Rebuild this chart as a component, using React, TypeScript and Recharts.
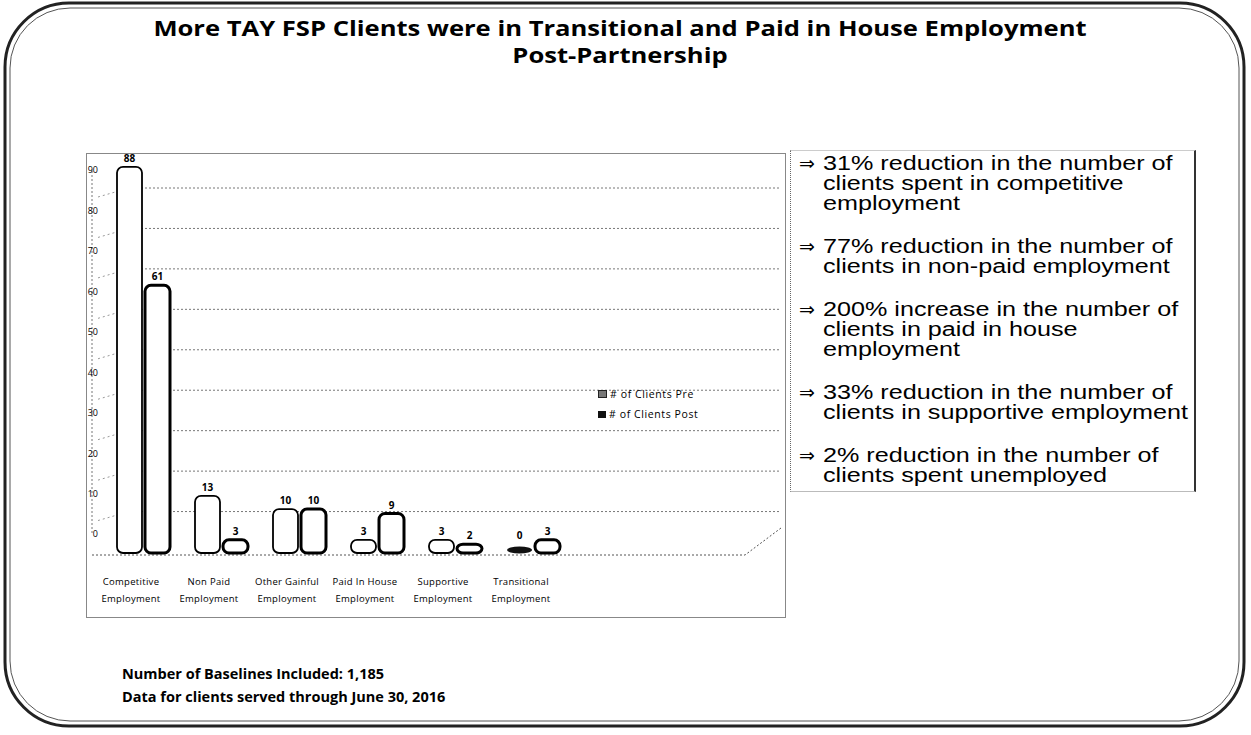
import React from "react";
import { BarChart, Bar, XAxis, YAxis, CartesianGrid, LabelList, Legend } from "recharts";

const catLine1 = ["Competitive", "Non Paid", "Other Gainful", "Paid In House", "Supportive", "Transitional"];
const catLine2 = ["Employment", "Employment", "Employment", "Employment", "Employment", "Employment"];
const preValues = [88, 13, 10, 3, 3, 0];
const postValues = [61, 3, 10, 9, 2, 3];
const yTicks = [0, 10, 20, 30, 40, 50, 60, 70, 80, 90];

const bullets = [
  ["31% reduction in the number of", "clients spent in competitive", "employment"],
  ["77% reduction in the number of", "clients in non-paid employment"],
  ["200% increase in the number of", "clients in paid in house", "employment"],
  ["33% reduction in the number of", "clients in supportive employment"],
  ["2% reduction in the number of", "clients spent unemployed"],
];

const data = catLine1.map((c, i) => ({
  name: c + " " + catLine2[i],
  pre: preValues[i],
  post: postValues[i],
}));

// fake 3D: bars sit on the front plane, a bit lower/right than the back wall
const DX = 12;
const DY = 18;
const SCALE = 1.085;
const CHART_FONT = "'Open Sans', 'DejaVu Sans', sans-serif";

const frontTop = (y: number, height: number) => y + height + DY - height * SCALE;

const makeShape = (sw: number) => (props: any) => {
  const { x, y, width, height } = props;
  const bottom = y + height + DY;
  const h = height * SCALE;
  const bx = x + DX;
  if (!h || h < 2) {
    return <ellipse cx={bx + width / 2} cy={bottom - 3} rx={width / 2} ry={3.5} fill="#111" />;
  }
  return (
    <rect
      x={bx}
      y={bottom - h}
      width={width}
      height={h}
      rx={6}
      ry={6}
      fill="#fff"
      stroke="#000"
      strokeWidth={sw}
    />
  );
};

const barLabel = (props: any) => {
  const { x, y, width, height, value } = props;
  const top = frontTop(y, height);
  // zero bars are a flat blob, keep the number clear of it
  const ly = height < 2 ? top - 14 : top - 5;
  return (
    <text
      x={x + DX + width / 2}
      y={ly}
      textAnchor="middle"
      fontSize={10}
      fontWeight="bold"
      fontFamily={CHART_FONT}
      fill="#000"
    >
      {value}
    </text>
  );
};

const gridLine = (props: any) => {
  const { x1, y1, index } = props;
  const gy = y1 + 17;
  const wallX = x1 + 37;
  const rightX = 694;
  if (Math.abs(y1 - 381) < 1.5) {
    // floor of the 3D box
    return (
      <g key={`g-${index}`}>
        <polyline
          points={`${x1},${gy + 3} 658,${gy + 3} ${rightX},${gy - 24}`}
          fill="none"
          stroke="#555"
          strokeDasharray="2 2"
        />
      </g>
    );
  }
  return (
    <g key={`g-${index}`}>
      <line x1={x1 + 6} y1={gy + 9} x2={wallX} y2={gy} stroke="#999" strokeDasharray="2 3" />
      <line x1={wallX} y1={gy} x2={rightX} y2={gy} stroke="#777" strokeDasharray="2 2" />
    </g>
  );
};

const xTick = (props: any) => {
  const { x, y, index } = props;
  return (
    <text x={x} y={y} textAnchor="middle" fontSize={9.5} letterSpacing={0.3} fontFamily={CHART_FONT} fill="#000">
      <tspan x={x} dy={48}>{catLine1[index]}</tspan>
      <tspan x={x} dy={17}>{catLine2[index]}</tspan>
    </text>
  );
};

const yTick = (props: any) => {
  const { y, payload } = props;
  return (
    <text x={11} y={y} textAnchor="end" dominantBaseline="middle" fontSize={9} fontFamily={CHART_FONT} fill="#000">
      {payload.value}
    </text>
  );
};

const legendContent = () => (
  <div style={{ fontFamily: CHART_FONT, fontSize: 10.5, letterSpacing: 0.6, color: "#000", lineHeight: "20px", whiteSpace: "nowrap" }}>
    <div>
      <span style={{ display: "inline-block", width: 7, height: 6, border: "1px solid #222", background: "#777", marginRight: 3 }} />
      # of Clients Pre
    </div>
    <div>
      <span style={{ display: "inline-block", width: 8, height: 7, background: "#111", marginRight: 3 }} />
      # of Clients Post
    </div>
  </div>
);

export default function App() {
  return (
    <div style={{ position: "absolute", left: 0, top: 0, width: 1251, height: 735, background: "#fff" }}>
      <style>{`svg.recharts-surface { overflow: visible; }`}</style>
      <svg width={1251} height={735} style={{ position: "absolute", left: 0, top: 0 }}>
        <rect x={5} y={3} width={1239} height={723} rx={64} fill="none" stroke="#222" strokeWidth={3} />
        <rect x={10} y={8} width={1229} height={713} rx={60} fill="none" stroke="#555" strokeWidth={1} />
      </svg>

      <div
        style={{
          position: "absolute",
          left: 0,
          top: 14,
          width: 1240,
          textAlign: "center",
          fontFamily: "'Open Sans', sans-serif",
          fontWeight: "bold",
          fontSize: 21.5,
          lineHeight: "27px",
          color: "#000",
          transform: "scaleX(1.19)",
          transformOrigin: "620px 0",
        }}
      >
        <div>More TAY FSP Clients were in Transitional and Paid in House Employment</div>
        <div>Post-Partnership</div>
      </div>

      <div
        style={{
          position: "absolute",
          left: 86,
          top: 153,
          width: 698,
          height: 463,
          border: "1px solid #888",
        }}
      >
        <BarChart
          width={698}
          height={463}
          data={data}
          margin={{ top: 17, right: 225, bottom: 0, left: 0 }}
          barSize={25}
          barGap={3}
        >
          <CartesianGrid vertical={false} horizontal={gridLine} />
          <XAxis dataKey="name" height={82} axisLine={false} tickLine={false} tickSize={0} interval={0} tick={xTick} />
          <YAxis
            width={5}
            domain={[0, 90]}
            ticks={yTicks}
            tickSize={0}
            tickLine={false}
            axisLine={{ stroke: "#777", strokeDasharray: "2 2" }}
            tick={yTick}
          />
          <Legend
            layout="vertical"
            align="center"
            verticalAlign="middle"
            content={legendContent}
            wrapperStyle={{ position: "absolute", left: 511, top: 230, width: 160 }}
          />
          <Bar dataKey="pre" name="# of Clients Pre" shape={makeShape(1.8)} isAnimationActive={false}>
            <LabelList dataKey="pre" content={barLabel} />
          </Bar>
          <Bar dataKey="post" name="# of Clients Post" shape={makeShape(3)} isAnimationActive={false}>
            <LabelList dataKey="post" content={barLabel} />
          </Bar>
        </BarChart>
      </div>

      <div
        style={{
          position: "absolute",
          left: 790,
          top: 150,
          width: 403,
          height: 340,
          borderLeft: "1px dotted #666",
          borderRight: "2px solid #333",
          borderTop: "1px solid #ccc",
          borderBottom: "1px solid #bbb",
        }}
      >
        {bullets.map((lines, i) => (
          <div key={i} style={{ position: "relative", height: lines.length * 20, marginBottom: 23, marginTop: i === 0 ? 2 : 0 }}>
            <span
              style={{
                position: "absolute",
                left: 8,
                top: 0,
                fontFamily: "'DejaVu Sans', sans-serif",
                fontSize: 19,
                lineHeight: "20px",
              }}
            >
              ⇒
            </span>
            <div
              style={{
                position: "absolute",
                left: 32,
                top: 0,
                whiteSpace: "nowrap",
                fontFamily: "'Liberation Sans', Arial, sans-serif",
                fontSize: 19.5,
                lineHeight: "20px",
                color: "#000",
                transform: "scaleX(1.29)",
                transformOrigin: "0 0",
              }}
            >
              {lines.map((l, j) => (
                <div key={j}>{l}</div>
              ))}
            </div>
          </div>
        ))}
      </div>

      <div
        style={{
          position: "absolute",
          left: 122,
          top: 662,
          fontFamily: "'Open Sans', sans-serif",
          fontWeight: "bold",
          fontSize: 14.5,
          lineHeight: "23px",
          color: "#000",
        }}
      >
        <div>Number of Baselines Included: 1,185</div>
        <div>Data for clients served through June 30, 2016</div>
      </div>
    </div>
  );
}
